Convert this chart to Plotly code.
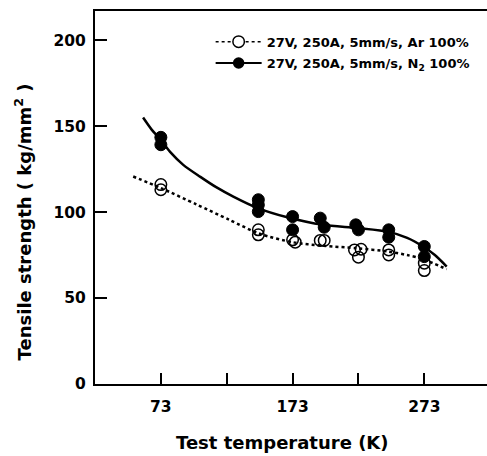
import plotly.graph_objects as go

# Measured points
ar_temp = [73, 73, 147, 147, 173, 175, 194, 197, 220, 223, 225, 246, 246, 273, 273]
ar_strength = [116, 113, 89.7, 86.8, 83.9, 82.5, 83.5, 83.5, 78, 73.8, 78.4, 78, 75.1, 70.3, 66]
n2_temp = [73, 73, 147, 147, 147, 173, 173, 194, 197, 221, 223, 246, 246, 273, 273]
n2_strength = [143.5, 139.2, 107.2, 104.2, 100.3, 97.4, 89.7, 96.5, 91.2, 92.6, 89.7, 89.7, 85.4, 80, 74.1]

# Fitted curves
ar_fit_temp = [52, 73, 100, 125, 148, 173, 196, 222, 246, 260, 272, 290]
ar_fit_strength = [120.7, 114, 104.5, 95.5, 87.4, 82.5, 80.4, 79, 77, 75, 72.6, 66.8]
n2_fit_temp = [59.5, 66, 73, 80, 90, 103, 115, 128, 146, 169, 196, 222, 246, 260, 272, 281, 290]
n2_fit_strength = [155, 148, 142, 135, 127.5, 120.5, 114.5, 109, 102.5, 97, 92.6, 90.7, 88.5, 85, 80, 75, 68.3]

x_tickvals = [73, 173, 273]
x_ticktext = ["73", "173", "273"]
y_tickvals = [0, 50, 100, 150, 200]

ar_label = "27V, 250A, 5mm/s, Ar 100%"
n2_label = "27V, 250A, 5mm/s, N<sub>2</sub> 100%"
x_title = "Test temperature (K)"
y_title = "Tensile strength ( kg/mm<sup>2</sup> )"

FONT = "DejaVu Sans, sans-serif"
fig = go.Figure()

fig.add_trace(go.Scatter(x=ar_fit_temp, y=ar_fit_strength, mode="lines",
                         line=dict(color="black", width=2.5, dash="dot", shape="spline", smoothing=0.8),
                         showlegend=False, hoverinfo="skip"))
fig.add_trace(go.Scatter(x=n2_fit_temp, y=n2_fit_strength, mode="lines",
                         line=dict(color="black", width=2.5, shape="spline", smoothing=0.8),
                         showlegend=False, hoverinfo="skip"))
fig.add_trace(go.Scatter(x=n2_temp, y=n2_strength, mode="markers",
                         marker=dict(symbol="circle", size=12, color="black",
                                     line=dict(color="black", width=1)),
                         showlegend=False))
fig.add_trace(go.Scatter(x=ar_temp, y=ar_strength, mode="markers",
                         marker=dict(symbol="circle-open", size=11.5, color="black",
                                     line=dict(color="black", width=1.5)),
                         showlegend=False))
# legend entries
fig.add_trace(go.Scatter(x=[None], y=[None], mode="lines+markers", name=ar_label,
                         line=dict(color="black", width=1.5, dash="dot"),
                         marker=dict(symbol="circle", size=11.5, color="white",
                                     line=dict(color="black", width=1.5)),
                         legend="legend"))
fig.add_trace(go.Scatter(x=[None], y=[None], mode="lines+markers", name=n2_label,
                         line=dict(color="black", width=2),
                         marker=dict(symbol="circle", size=11.5, color="black"),
                         legend="legend2"))

legend_common = dict(xanchor="left", yanchor="middle", bgcolor="rgba(0,0,0,0)",
                     font=dict(size=13, weight="bold"), itemwidth=46)

fig.update_layout(
    width=487, height=456,
    margin=dict(l=95, r=0, t=11, b=72, autoexpand=False),
    paper_bgcolor="white", plot_bgcolor="white",
    font=dict(family=FONT, color="black", size=15.5, weight="bold"),
    legend=dict(x=0.295, y=(384 - 41.7) / 373, **legend_common),
    legend2=dict(x=0.295, y=(384 - 63) / 373, **legend_common),
    xaxis=dict(range=[23, 320.6], tickvals=x_tickvals, ticktext=x_ticktext,
               ticks="inside", ticklen=11, tickwidth=1.5, tickcolor="black",
               minor=dict(tick0=73, dtick=50, ticks="inside", ticklen=11,
                          tickwidth=1.5, tickcolor="black", showgrid=False),
               showline=True, linecolor="black", linewidth=2, mirror=True,
               showgrid=False, zeroline=False, automargin=False,
               ticklabelstandoff=7),
    yaxis=dict(range=[0, 217], tickvals=y_tickvals,
               ticks="inside", ticklen=12, tickwidth=1.5, tickcolor="black",
               showline=True, linecolor="black", linewidth=2,
               showgrid=False, zeroline=False, automargin=False,
               ticklabelstandoff=4),
    annotations=[
        dict(text=x_title, xref="paper", yref="paper", x=0.478, y=-0.158,
             xanchor="center", yanchor="middle", showarrow=False,
             font=dict(size=18, weight="bold")),
        dict(text=y_title, xref="paper", yref="paper", x=-0.183, y=0.434,
             xanchor="center", yanchor="middle", showarrow=False, textangle=-90,
             font=dict(size=18, weight="bold")),
    ],
)

fig.write_html("out.html", config={"displayModeBar": False},
               post_script="document.body.style.margin='0';document.body.style.overflow='hidden';")
